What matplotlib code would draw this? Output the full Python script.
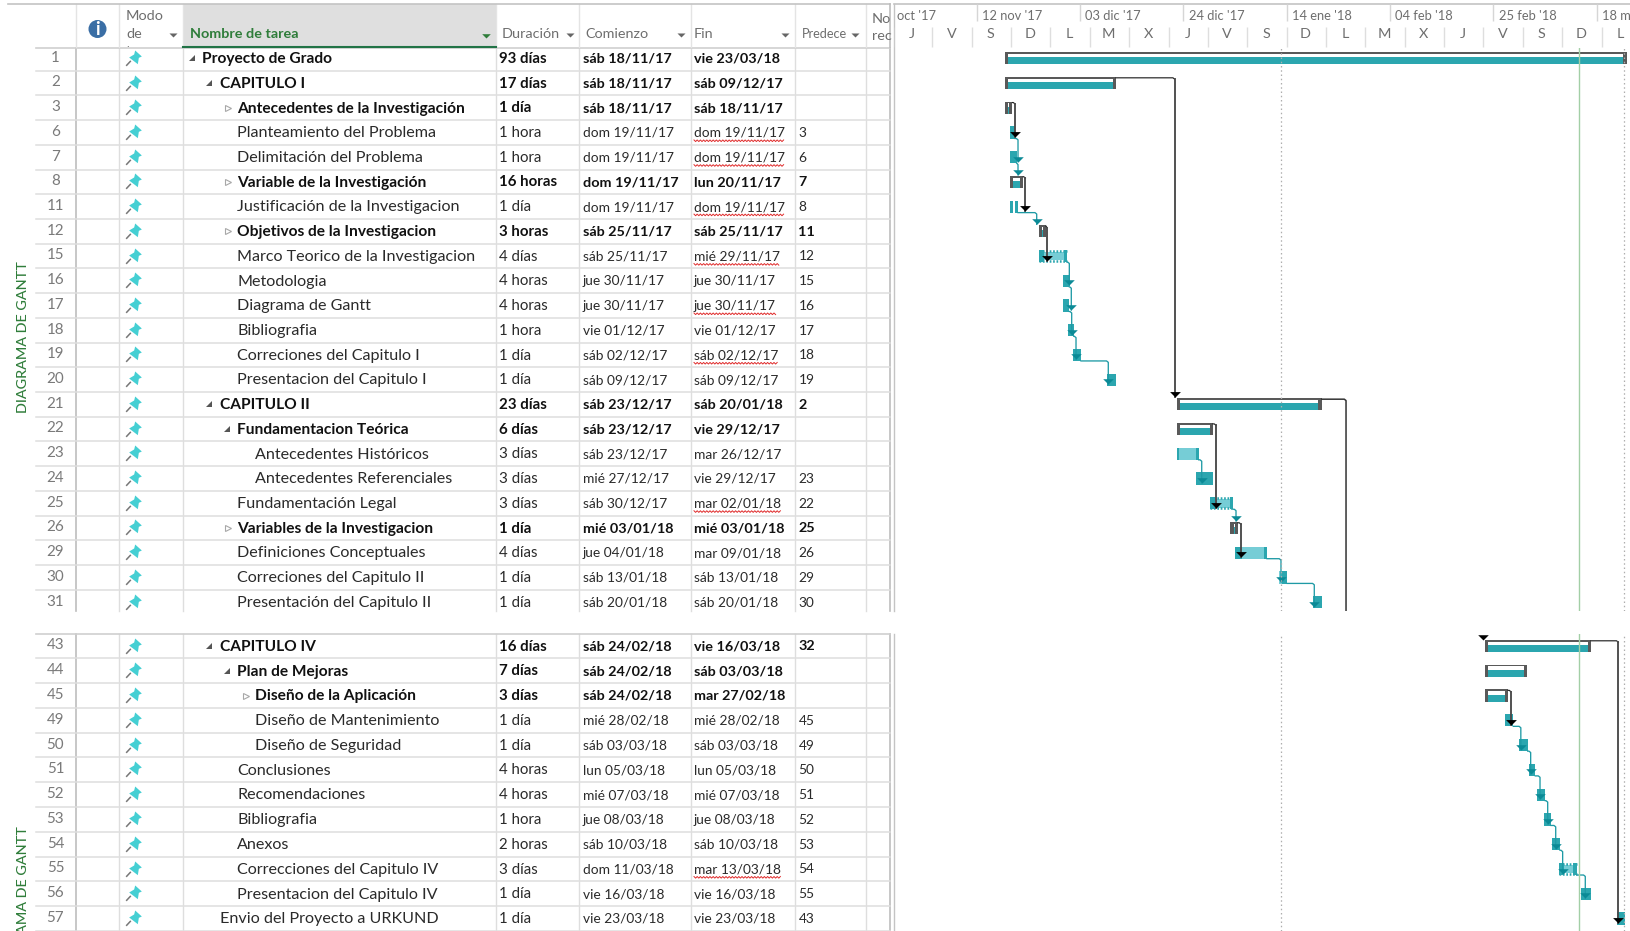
import datetime as dt
import matplotlib
matplotlib.use("Agg")
import matplotlib.pyplot as plt
from matplotlib.path import Path
from matplotlib.patches import Circle
from matplotlib.transforms import Bbox

plt.rcParams['font.family'] = ['Lato', 'DejaVu Sans']

# ---------------------------------------------------------------- data
ids = [1, 2, 3, 6, 7, 8, 11, 12, 15, 16, 17, 18, 19, 20, 21, 22, 23, 24, 25, 26, 29, 30, 31,
       43, 44, 45, 49, 50, 51, 52, 53, 54, 55, 56, 57]
n_upper = 23
names = ["Proyecto de Grado", "CAPITULO I", "Antecedentes de la Investigación", "Planteamiento del Problema",
         "Delimitación del Problema", "Variable de la Investigación", "Justificación de la Investigacion",
         "Objetivos de la Investigacion", "Marco Teorico de la Investigacion", "Metodologia", "Diagrama de Gantt",
         "Bibliografia", "Correciones del Capitulo I", "Presentacion del Capitulo I", "CAPITULO II",
         "Fundamentacion Teórica", "Antecedentes Históricos", "Antecedentes Referenciales", "Fundamentación Legal",
         "Variables de la Investigacion", "Definiciones Conceptuales", "Correciones del Capitulo II",
         "Presentación del Capitulo II", "CAPITULO IV", "Plan de Mejoras", "Diseño de la Aplicación",
         "Diseño de Mantenimiento", "Diseño de Seguridad", "Conclusiones", "Recomendaciones", "Bibliografia",
         "Anexos", "Correcciones del Capitulo IV", "Presentacion del Capitulo IV", "Envio del Proyecto a URKUND"]
levels = [0, 1, 2, 2, 2, 2, 2, 2, 2, 2, 2, 2, 2, 2, 1, 2, 3, 3, 2, 2, 2, 2, 2,
          1, 2, 3, 3, 3, 2, 2, 2, 2, 2, 2, 1]
expanders = ["o", "o", "c", "", "", "c", "", "c", "", "", "", "", "", "", "o", "o", "", "", "", "c", "", "", "",
             "o", "o", "c", "", "", "", "", "", "", "", "", ""]
durations = ["93 días", "17 días", "1 día", "1 hora", "1 hora", "16 horas", "1 día", "3 horas", "4 días", "4 horas",
             "4 horas", "1 hora", "1 día", "1 día", "23 días", "6 días", "3 días", "3 días", "3 días", "1 día",
             "4 días", "1 día", "1 día", "16 días", "7 días", "3 días", "1 día", "1 día", "4 horas", "4 horas",
             "1 hora", "2 horas", "3 días", "1 día", "1 día"]
starts = ["sáb 18/11/17", "sáb 18/11/17", "sáb 18/11/17", "dom 19/11/17", "dom 19/11/17", "dom 19/11/17",
          "dom 19/11/17", "sáb 25/11/17", "sáb 25/11/17", "jue 30/11/17", "jue 30/11/17", "vie 01/12/17",
          "sáb 02/12/17", "sáb 09/12/17", "sáb 23/12/17", "sáb 23/12/17", "sáb 23/12/17", "mié 27/12/17",
          "sáb 30/12/17", "mié 03/01/18", "jue 04/01/18", "sáb 13/01/18", "sáb 20/01/18", "sáb 24/02/18",
          "sáb 24/02/18", "sáb 24/02/18", "mié 28/02/18", "sáb 03/03/18", "lun 05/03/18", "mié 07/03/18",
          "jue 08/03/18", "sáb 10/03/18", "dom 11/03/18", "vie 16/03/18", "vie 23/03/18"]
finishes = ["vie 23/03/18", "sáb 09/12/17", "sáb 18/11/17", "dom 19/11/17", "dom 19/11/17", "lun 20/11/17",
            "dom 19/11/17", "sáb 25/11/17", "mié 29/11/17", "jue 30/11/17", "jue 30/11/17", "vie 01/12/17",
            "sáb 02/12/17", "sáb 09/12/17", "sáb 20/01/18", "vie 29/12/17", "mar 26/12/17", "vie 29/12/17",
            "mar 02/01/18", "mié 03/01/18", "mar 09/01/18", "sáb 13/01/18", "sáb 20/01/18", "vie 16/03/18",
            "sáb 03/03/18", "mar 27/02/18", "mié 28/02/18", "sáb 03/03/18", "lun 05/03/18", "mié 07/03/18",
            "jue 08/03/18", "sáb 10/03/18", "mar 13/03/18", "vie 16/03/18", "vie 23/03/18"]
preds = ["", "", "", "3", "6", "7", "8", "11", "12", "15", "16", "17", "18", "19", "2", "", "", "23", "22", "25",
         "26", "29", "30", "32", "", "", "45", "49", "50", "51", "52", "53", "54", "55", "43"]
squiggled = [6, 7, 11, 15, 17, 19, 25, 55]

# Bars, in days after 18/11/2017 00:00
bar_start = [-0.24, -0.24, -0.24, 0.77, 0.77, 0.77, 0.77, 6.67, 6.67, 11.61, 11.61, 12.56, 13.64, 20.55,
             34.65, 34.65, 34.65, 38.52, 41.42, 45.55, 46.44, 55.51, 62.36,
             97.32, 97.32, 97.32, 101.38, 104.29, 106.2, 107.95, 109.31, 111.0, 112.3, 116.77, 124.09]
bar_end = [126.12, 22.32, 1.28, 1.79, 2.13, 3.48, 2.4, 8.09, 12.36, 12.83, 12.83, 13.72, 15.2, 22.26,
           64.13, 42.03, 39.13, 42.09, 46.1, 47.11, 53.0, 57.13, 64.13,
           118.86, 105.91, 101.99, 103.07, 106.0, 107.54, 109.57, 110.73, 112.56, 115.95, 118.86, 125.77]
bar_kind = ["summary", "summary", "summary", "solid", "solid", "summary", "split", "summary", "hatched",
            "solid", "solid", "solid", "solid", "solid", "summary", "summary", "light", "solid", "hatched",
            "summary", "light", "banded", "solid", "summary", "summary", "summary", "solid", "solid", "solid",
            "solid", "solid", "solid", "hatched", "solid", "solid"]

# Links: predecessor row, successor row, day of the vertical run
link_from = [3, 6, 7, 8, 11, 12, 15, 16, 17, 18, 19, 2, 22, 23, 25, 26, 29, 30, 43, 45, 49, 50, 51, 52, 53, 54, 55]
link_to = [6, 7, 8, 11, 12, 15, 16, 17, 18, 19, 20, 21, 25, 24, 26, 29, 30, 31, 57, 49, 50, 51, 52, 53, 54, 55, 56]
link_bend = [1.79, 2.4, 2.4, 3.9, 6.2, 8.29, 12.83, 13.23, 13.31, 14.19, 20.75, 34.25, 42.64, 39.74, 46.71, 47.72,
             55.85, 62.62, 124.41, 102.6, 104.6, 106.6, 108.5, 110.06, 111.69, 113.1, 117.7]
offpage_out_row = 21      # Capitulo II continues to rows that are not shown
offpage_out_bend = 69.07
offpage_in_row = 43       # Capitulo IV is fed from a row that is not shown
offpage_in_bend = 96.85

origin = dt.date(2017, 11, 18)
top_dates = [dt.date(2017, 10, 22), dt.date(2017, 11, 12), dt.date(2017, 12, 3), dt.date(2017, 12, 24),
             dt.date(2018, 1, 14), dt.date(2018, 2, 4), dt.date(2018, 2, 25), dt.date(2018, 3, 18)]
top_labels = ["oct '17", "12 nov '17", "03 dic '17", "24 dic '17", "14 ene '18", "04 feb '18", "25 feb '18", "18 mar '18"]
bottom_first = dt.date(2017, 10, 26)
bottom_labels = list("JVSDLMXJVSDLMXJVSDL")
marker_days = [55.85, 125.57]   # dotted verticals
status_day = 116.5              # green status line

# ---------------------------------------------------------------- layout (pixels of the screenshot)
W, H = 1631, 931
PX_DAY = 4.92
X_ORIGIN = 1006.2
Y_TOP0, DY_TOP = 58.3, 24.72
Y_BOT0, DY_BOT = 646.0, 24.78
TOP_A, TOP_B = 47.5, 610.5
BOT_A, BOT_B = 634.0, 931.0
GX0 = 894
COLS = [76, 119.5, 183.3, 496, 579, 691, 795, 866, 889.6]

TEAL = "#2BA6AF"
LIGHT = "#76CDD6"
LINK = "#1E9AA5"
ARROW_T = "#0B8A96"
DARK = "#595959"
GRID = "#DEDEDE"
TXT = "#2A2A2A"
GRAY = "#6E6E6E"
GREEN = "#2F7D3A"
FS = 10.4          # header and row numbers
FS_NAME = 11.6     # regular task names
FS_NAME_B = 11.2   # bold task names
FS_DATE = 9.95     # regular dates
FS_DATE_B = 10.4   # bold dates
FS_DUR = 10.8      # durations
FS_SCALE = 9.3     # top tier of the time scale

fig = plt.figure(figsize=(W / 100, H / 100), dpi=100, facecolor="white")


def axes_px(x0, y0, x1, y1):
    ax = fig.add_axes([x0 / W, 1 - y1 / H, (x1 - x0) / W, (y1 - y0) / H])
    ax.axis("off")
    ax.patch.set_visible(False)
    return ax


tbl = axes_px(0, 0, W, H)
tbl.set_xlim(0, W)
tbl.set_ylim(H, 0)


def row_y(i):
    return Y_TOP0 + DY_TOP * i if i < n_upper else Y_BOT0 + DY_BOT * (i - n_upper)


# table grid
for a, b in ((TOP_A, TOP_B), (BOT_A, BOT_B)):
    for c in COLS:
        strong = c in (76, 889.6)
        tbl.plot([c, c], [a, b], color="#BDBDBD" if strong else GRID, lw=1.2 if strong else 1.0, zorder=1)
for i in range(len(ids)):
    y = row_y(i)
    if i in (n_upper - 1,):
        continue
    tbl.plot([36, 889.6], [y + 12.36, y + 12.36], color=GRID, lw=1.1, zorder=1)
tbl.plot([36, 889.6], [BOT_A, BOT_A], color="#CFCFCF", lw=1.2, zorder=1)
tbl.plot([36, 889.6], [TOP_A, TOP_A], color="#CFCFCF", lw=1.2, zorder=1)

# header
tbl.plot([8, 889.6], [4, 4], color="#C4C4C4", lw=1.2)
tbl.plot([893.6, W], [4, 4], color="#C4C4C4", lw=1.2)
tbl.fill_between([183.3, 496], [4, 4], [47, 47], color="#DFDFDF", lw=0, zorder=1)
tbl.plot([183.3, 496], [47.3, 47.3], color="#217346", lw=1.5, zorder=2)
for c in COLS[:-1]:
    tbl.plot([c, c], [4, 47], color="#E4E4E4", lw=1, zorder=1)
tbl.plot([889.6, 889.6], [4, 47], color="#BDBDBD", lw=1.2)
tbl.plot([893.6, 893.6], [4, TOP_B], color="#C4C4C4", lw=1.0)
tbl.plot([893.6, 893.6], [BOT_A, BOT_B], color="#C4C4C4", lw=1.0)
tbl.add_patch(Circle((97.5, 29), 9, color="#3A6EA5", lw=0, zorder=3))
tbl.text(97.5, 35, "i", color="white", fontsize=13, fontweight="bold", ha="center", zorder=4)

hk = dict(color=GRAY, fontsize=FS)
tbl.text(126, 20, "Modo", **hk)
tbl.text(126, 38, "de", **hk)
t = tbl.text(126, 55, "tarea", **hk)
t.set_clip_box(Bbox([[0, H - 47], [181, H]]))
t.set_clip_on(True)
tbl.text(190, 38, "Nombre de tarea", color=GREEN, fontsize=FS, fontweight="bold")
tbl.text(502, 38, "Duración", **hk)
tbl.text(585.5, 38, "Comienzo", **hk)
tbl.text(694, 38, "Fin", **hk)
tbl.text(801.5, 38, "Predece", color=GRAY, fontsize=9.2)
tbl.text(872, 23, "No", **hk)
tbl.text(872, 40, "rec", **hk)

# vertical captions (the second runs off the page, as in the screenshot)
vk = dict(color=GREEN, fontsize=10.4, fontweight="medium", rotation=90, ha="center", va="center")
tbl.text(22.6, 337.5, "DIAGRAMA DE GANTT", **vk)
t = tbl.text(22.6, 902, "DIAGRAMA DE GANTT", **vk)
t.set_clip_on(True)

# icons
PIN_HEAD = Path([(5, 24), (25, 6), (16, 2), (13, -17), (-13, 3), (2, 12), (5, 24)], closed=True)
PIN_NEEDLE = Path([(-8, -7), (-22, -22)])
OPEN_TRI = Path([(1, 1), (1, -1), (-1, -1), (1, 1)], closed=True)
TIP_DOWN = Path([(-1, 1), (1, 1), (0, 0), (-1, 1)], closed=True)

for x in (173, 570, 681, 785, 855):
    tbl.plot([x], [37.4], marker=TIP_DOWN, ms=5.8, color="#666666", mew=0)
tbl.plot([486], [37.6], marker=TIP_DOWN, ms=6.2, color=GREEN, mew=0)

ind_text = {0: 201.8, 1: 219.7, 2: 237.2, 3: 255.2}
renderer = fig.canvas.get_renderer()
for i, rid in enumerate(ids):
    y = row_y(i)
    bold = bar_kind[i] == "summary"
    fw = "bold" if bold else "normal"
    col = "#111111" if bold else TXT
    tbl.text(55.5, y + 3.4, str(rid), color="#7A7A7A", fontsize=FS + 0.5, ha="center")
    tbl.plot([132.6], [y - 0.5], marker=PIN_NEEDLE, ms=10.56, color="#777777", mew=1.1, fillstyle="none", zorder=3)
    tbl.plot([132.6], [y - 0.5], marker=PIN_HEAD, ms=12, color="#45CFD3", mew=0, zorder=4)
    xt = ind_text[levels[i]]
    tbl.text(xt, y + 4.8, names[i], color=col, fontsize=FS_NAME_B if bold else FS_NAME, fontweight=fw)
    if expanders[i] == "o":
        tbl.plot([xt - 10.2], [y], marker=OPEN_TRI, ms=4.4, color="#555555", mew=0)
    elif expanders[i] == "c":
        tbl.plot([xt - 9.6], [y], marker=">", ms=5, mfc="white", mec="#A8A8A8", mew=0.8)
    date_fs = FS_DATE_B if bold else FS_DATE
    tbl.text(499, y + 4.6, durations[i], color=col, fontsize=FS_DUR, fontweight=fw)
    tbl.text(582.8, y + 4.4, starts[i], color=col, fontsize=date_fs, fontweight=fw)
    fin = tbl.text(694, y + 4.4, finishes[i], color=col, fontsize=date_fs, fontweight=fw)
    tbl.text(798.5, y + 4.4, preds[i], color=col, fontsize=date_fs, fontweight=fw)
    if rid in squiggled:
        ext = fin.get_window_extent(renderer)
        xs, ys, xx, up = [], [], ext.x0, True
        while xx < ext.x1:
            xs.append(xx)
            ys.append(y + 8.3 + (-0.8 if up else 0.8))
            xx += 1.6
            up = not up
        tbl.plot(xs, ys, color="#E02B2B", lw=0.7, zorder=3)

# ---------------------------------------------------------------- gantt
day_lim = ((GX0 - X_ORIGIN) / PX_DAY, (W - X_ORIGIN) / PX_DAY)

ghead = axes_px(GX0, 3.5, W, TOP_A)
ghead.set_xlim(*day_lim)
ghead.set_ylim(TOP_A, 3.5)
top_days = [(d - origin).days for d in top_dates]
ghead.vlines(top_days, 4.5, 21, color="#D6D6D6", lw=1)
for d, lab in zip(top_days, top_labels):
    xpos = max(d, day_lim[0])
    t = ghead.annotate(lab, (xpos, 20), xytext=(3.9 if d > day_lim[0] else 2.2, 0), textcoords="offset points",
                       color=GRAY, fontsize=FS_SCALE, annotation_clip=False)
    t.set_clip_on(True)
first = (bottom_first - origin).days
bottom_ticks = [first + 8 * k for k in range(len(bottom_labels))]
ghead.vlines(bottom_ticks, 27, 47, color="#DEDEDE", lw=1)
for d, lab in zip(bottom_ticks, bottom_labels):
    ghead.text(d + 3.85, 38, lab, color=GRAY, fontsize=FS, ha="center")

gtop = axes_px(GX0, TOP_A, W, TOP_B)
gtop.set_xlim(*day_lim)
gtop.set_ylim((TOP_B - Y_TOP0) / DY_TOP, (TOP_A - Y_TOP0) / DY_TOP)
gbot = axes_px(GX0, BOT_A, W, BOT_B)
gbot.set_xlim(*day_lim)
gbot.set_ylim((BOT_B - Y_BOT0) / DY_BOT, (BOT_A - Y_BOT0) / DY_BOT)


def place(i):
    return (gtop, i, DY_TOP) if i < n_upper else (gbot, i - n_upper, DY_BOT)


H_BAR = 12.2
CAP = 3.3 / PX_DAY

for i, kind in enumerate(bar_kind):
    ax, r, dy = place(i)
    s, e = bar_start[i], bar_end[i]
    h = H_BAR / dy
    w = e - s
    if kind == "summary":
        ax.barh(r, w, left=s, height=h, color="white", lw=0, zorder=2)
        ax.barh(r + h * 0.21, w, left=s, height=h * 0.58, color=TEAL, lw=0, zorder=2.1)
        ax.barh(r - h / 2 + 0.9 / dy, w, left=s, height=1.8 / dy, color=DARK, lw=0, zorder=2.2)
        ax.barh(r, CAP, left=s, height=h, color=DARK, lw=0, zorder=2.2)
        ax.barh(r, CAP, left=e - CAP, height=h, color=DARK, lw=0, zorder=2.2)
    elif kind == "solid":
        ax.barh(r, w, left=s, height=h, color=TEAL, lw=0, zorder=2)
    elif kind == "light":
        ax.barh(r, w, left=s, height=h, color=LIGHT, lw=0, zorder=2)
        lead = 1.4 if w > 4.5 else 0.55
        ax.barh(r, lead, left=s, height=h, color=TEAL, lw=0, zorder=2.1)
        ax.barh(r, 0.55, left=e - 0.55, height=h, color=TEAL, lw=0, zorder=2.1)
    elif kind == "hatched":
        ax.barh(r, w, left=s, height=h - 3.4 / dy, color=LIGHT, lw=0, zorder=2)
        ax.barh(r, 1.1, left=s, height=h, color=TEAL, lw=0, zorder=2.1)
        ax.barh(r, 0.7, left=e - 0.7, height=h, color=TEAL, lw=0, zorder=2.1)
        for edge in (-1, 1):
            ax.plot([s, e], [r + edge * (h / 2 - 1.25 / dy)] * 2, color=TEAL, lw=1.8,
                    ls=(0, (0.68, 0.68)), zorder=2.2)
    elif kind == "split":
        ax.barh(r, w, left=s, height=h, color=TEAL, lw=0, zorder=2)
        ax.barh(r, w * 0.2, left=s + w * 0.42, height=h, color="white", lw=0, zorder=2.1)
    elif kind == "banded":
        ax.barh(r, w, left=s, height=h, color=TEAL, lw=0, zorder=2)
        ax.barh(r, w * 0.35, left=s, height=h, color=LIGHT, lw=0, zorder=2.1)

for src, dst, bend in zip(link_from, link_to, link_bend):
    a = ids.index(src)
    b = ids.index(dst)
    ax, ra, dy = place(a)
    _, rb, _ = place(b)
    summary_src = bar_kind[a] == "summary"
    y0 = ra + (-5.2 if summary_src else 6.0) / dy
    tip = rb + (-7.0 if bar_kind[b] == "summary" else 4.5) / dy
    x0 = bar_end[a]
    xs = [x0, max(x0, bend - 0.35), bend, bend]
    ys = [y0, y0, y0 + 1.4 / dy, tip]
    if summary_src:
        ax.plot(xs[:3], ys[:3], color="#222222", lw=0.85, zorder=3)
        ax.plot(xs[2:], ys[2:], color="#4A4A4A", lw=1.35, zorder=3)
        ax.plot([bend], [tip], marker=TIP_DOWN, ms=7.8, color="black", mew=0, zorder=4)
    else:
        ax.plot(xs, ys, color=LINK, lw=0.95, zorder=3)
        ax.plot([bend], [tip], marker=TIP_DOWN, ms=7.6, color=ARROW_T, mew=0, zorder=4)

# link running off the first panel
a = ids.index(offpage_out_row)
ya = a - 5.2 / DY_TOP
gtop.plot([bar_end[a], offpage_out_bend - 0.35, offpage_out_bend, offpage_out_bend],
          [ya, ya, ya + 1.4 / DY_TOP, n_upper + 2], color="#333333", lw=1.1, zorder=3)
# arrow arriving in the second panel
b = ids.index(offpage_in_row) - n_upper
gbot.plot([offpage_in_bend], [b - 6.0 / DY_BOT], marker=TIP_DOWN, ms=7.6, color="black", mew=0, zorder=4)

for ax in (gtop, gbot):
    for d in marker_days:
        ax.axvline(d, color="#AEAEAE", lw=0.9, ls=(0, (1.2, 2.2)), zorder=5)
    ax.axvline(status_day, color="#A3CFA6", lw=1.0, zorder=5)

fig.savefig("out.png", dpi=100, facecolor="white")
